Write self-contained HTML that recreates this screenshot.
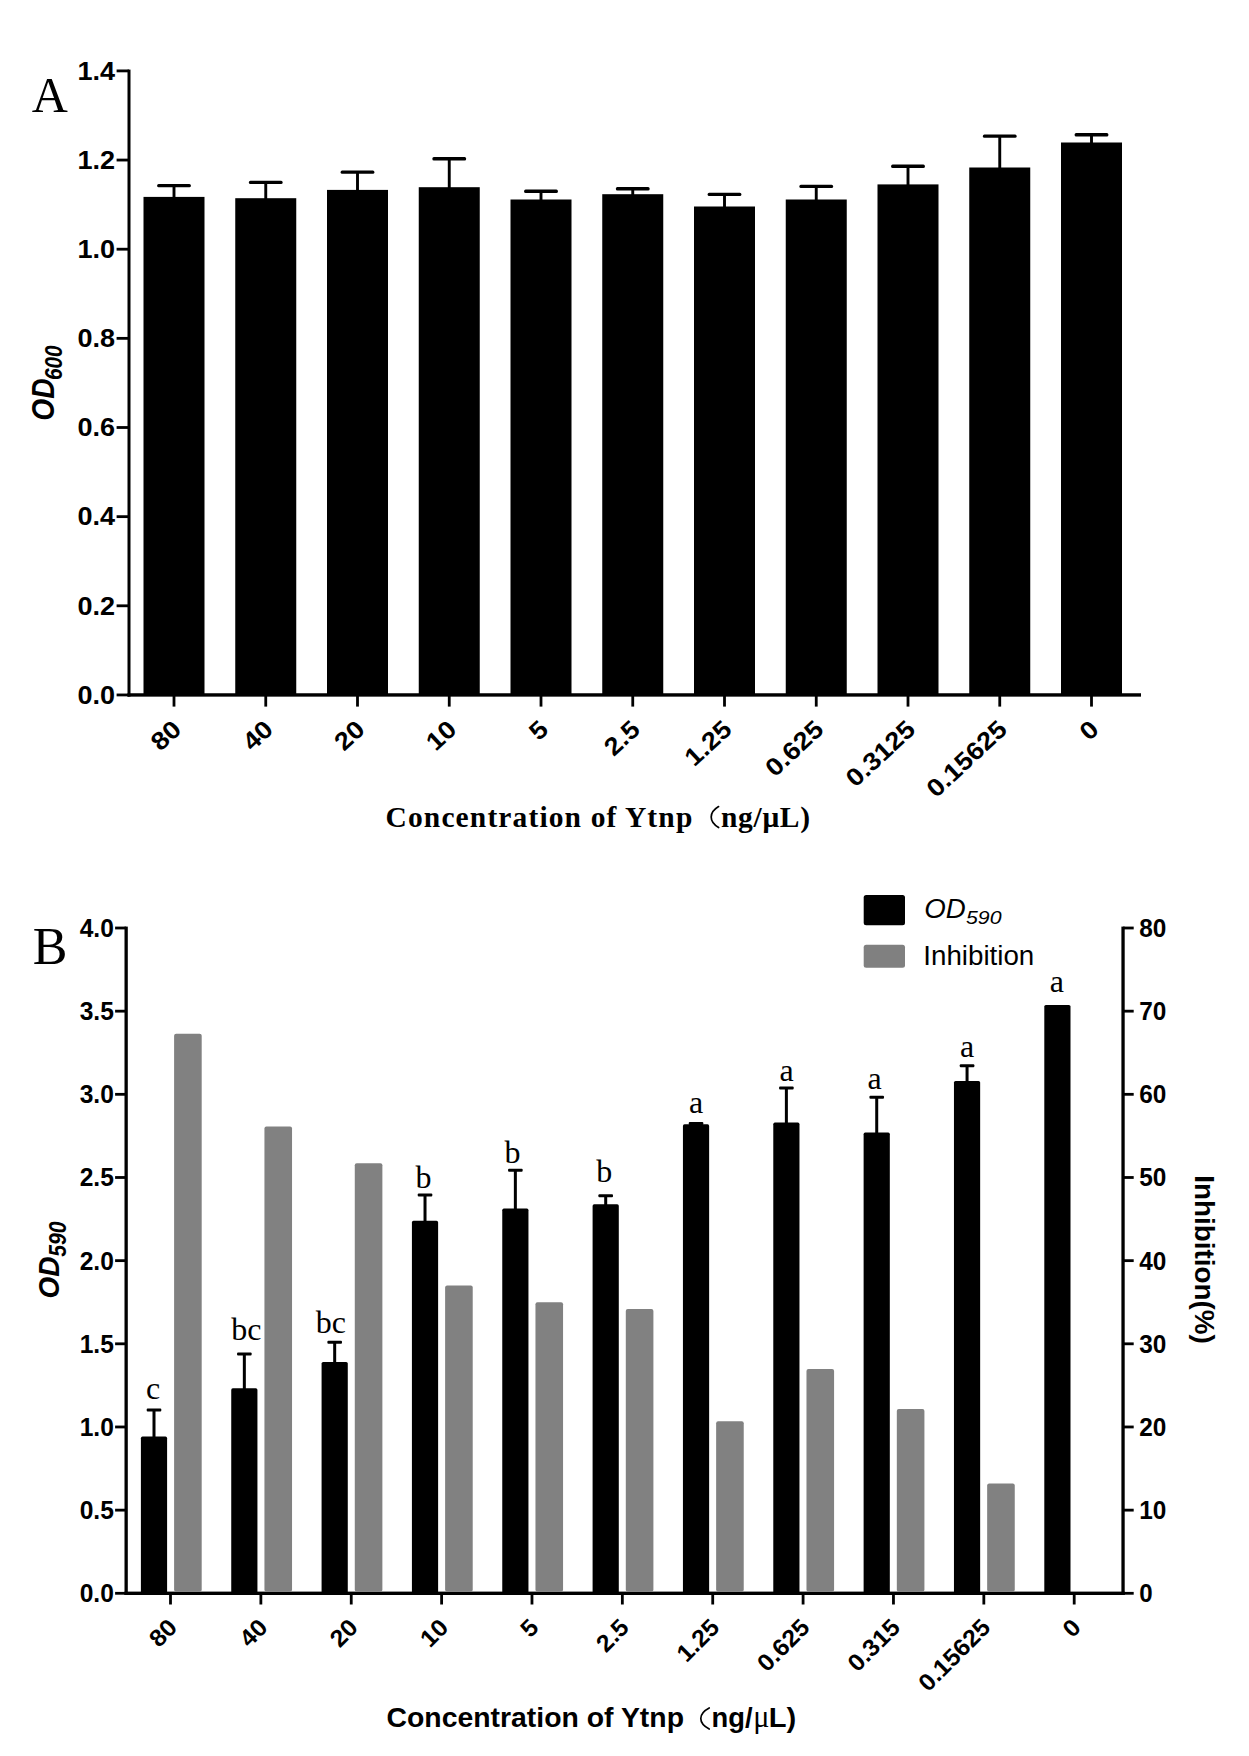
<!DOCTYPE html>
<html><head><meta charset="utf-8"><title>Figure</title>
<style>
html,body{margin:0;padding:0;background:#fff;}
body{width:1249px;height:1756px;overflow:hidden;font-family:"Liberation Sans",sans-serif;}
svg{display:block;}
</style></head>
<body>
<svg width="1249" height="1756" viewBox="0 0 1249 1756">
<rect width="1249" height="1756" fill="#ffffff"/>
<rect x="127.50" y="69.60" width="3.00" height="627.05" fill="#000"/>
<rect x="127.50" y="693.25" width="1013.50" height="3.40" fill="#000"/>
<rect x="116.60" y="69.50" width="12.40" height="2.80" fill="#000"/>
<text x="115.00" y="79.60" font-size="26" font-family='"Liberation Sans", sans-serif' font-weight="bold" font-style="normal" text-anchor="end" fill="#000" textLength="37.60" lengthAdjust="spacingAndGlyphs" >1.4</text>
<rect x="116.60" y="158.65" width="12.40" height="2.80" fill="#000"/>
<text x="115.00" y="168.75" font-size="26" font-family='"Liberation Sans", sans-serif' font-weight="bold" font-style="normal" text-anchor="end" fill="#000" textLength="37.60" lengthAdjust="spacingAndGlyphs" >1.2</text>
<rect x="116.60" y="247.80" width="12.40" height="2.80" fill="#000"/>
<text x="115.00" y="257.90" font-size="26" font-family='"Liberation Sans", sans-serif' font-weight="bold" font-style="normal" text-anchor="end" fill="#000" textLength="37.60" lengthAdjust="spacingAndGlyphs" >1.0</text>
<rect x="116.60" y="336.95" width="12.40" height="2.80" fill="#000"/>
<text x="115.00" y="347.05" font-size="26" font-family='"Liberation Sans", sans-serif' font-weight="bold" font-style="normal" text-anchor="end" fill="#000" textLength="37.60" lengthAdjust="spacingAndGlyphs" >0.8</text>
<rect x="116.60" y="426.10" width="12.40" height="2.80" fill="#000"/>
<text x="115.00" y="436.20" font-size="26" font-family='"Liberation Sans", sans-serif' font-weight="bold" font-style="normal" text-anchor="end" fill="#000" textLength="37.60" lengthAdjust="spacingAndGlyphs" >0.6</text>
<rect x="116.60" y="515.25" width="12.40" height="2.80" fill="#000"/>
<text x="115.00" y="525.35" font-size="26" font-family='"Liberation Sans", sans-serif' font-weight="bold" font-style="normal" text-anchor="end" fill="#000" textLength="37.60" lengthAdjust="spacingAndGlyphs" >0.4</text>
<rect x="116.60" y="604.40" width="12.40" height="2.80" fill="#000"/>
<text x="115.00" y="614.50" font-size="26" font-family='"Liberation Sans", sans-serif' font-weight="bold" font-style="normal" text-anchor="end" fill="#000" textLength="37.60" lengthAdjust="spacingAndGlyphs" >0.2</text>
<rect x="116.60" y="693.55" width="12.40" height="2.80" fill="#000"/>
<text x="115.00" y="703.65" font-size="26" font-family='"Liberation Sans", sans-serif' font-weight="bold" font-style="normal" text-anchor="end" fill="#000" textLength="37.60" lengthAdjust="spacingAndGlyphs" >0.0</text>
<rect x="143.50" y="196.90" width="61.00" height="498.05" fill="#000"/>
<rect x="172.55" y="185.20" width="2.90" height="12.50" fill="#000"/>
<rect x="157.10" y="183.90" width="33.80" height="3.40" fill="#000" rx="1.5"/>
<rect x="172.60" y="694.95" width="2.80" height="11.65" fill="#000"/>
<rect x="235.25" y="198.20" width="61.00" height="496.75" fill="#000"/>
<rect x="264.30" y="182.00" width="2.90" height="17.00" fill="#000"/>
<rect x="248.85" y="180.70" width="33.80" height="3.40" fill="#000" rx="1.5"/>
<rect x="264.35" y="694.95" width="2.80" height="11.65" fill="#000"/>
<rect x="327.00" y="189.90" width="61.00" height="505.05" fill="#000"/>
<rect x="356.05" y="171.70" width="2.90" height="19.00" fill="#000"/>
<rect x="340.60" y="170.40" width="33.80" height="3.40" fill="#000" rx="1.5"/>
<rect x="356.10" y="694.95" width="2.80" height="11.65" fill="#000"/>
<rect x="418.75" y="187.20" width="61.00" height="507.75" fill="#000"/>
<rect x="447.80" y="158.30" width="2.90" height="29.70" fill="#000"/>
<rect x="432.35" y="157.00" width="33.80" height="3.40" fill="#000" rx="1.5"/>
<rect x="447.85" y="694.95" width="2.80" height="11.65" fill="#000"/>
<rect x="510.50" y="199.50" width="61.00" height="495.45" fill="#000"/>
<rect x="539.55" y="190.80" width="2.90" height="9.50" fill="#000"/>
<rect x="524.10" y="189.50" width="33.80" height="3.40" fill="#000" rx="1.5"/>
<rect x="539.60" y="694.95" width="2.80" height="11.65" fill="#000"/>
<rect x="602.25" y="194.20" width="61.00" height="500.75" fill="#000"/>
<rect x="631.30" y="188.30" width="2.90" height="6.70" fill="#000"/>
<rect x="615.85" y="187.00" width="33.80" height="3.40" fill="#000" rx="1.5"/>
<rect x="631.35" y="694.95" width="2.80" height="11.65" fill="#000"/>
<rect x="694.00" y="206.50" width="61.00" height="488.45" fill="#000"/>
<rect x="723.05" y="194.00" width="2.90" height="13.30" fill="#000"/>
<rect x="707.60" y="192.70" width="33.80" height="3.40" fill="#000" rx="1.5"/>
<rect x="723.10" y="694.95" width="2.80" height="11.65" fill="#000"/>
<rect x="785.75" y="199.50" width="61.00" height="495.45" fill="#000"/>
<rect x="814.80" y="186.00" width="2.90" height="14.30" fill="#000"/>
<rect x="799.35" y="184.70" width="33.80" height="3.40" fill="#000" rx="1.5"/>
<rect x="814.85" y="694.95" width="2.80" height="11.65" fill="#000"/>
<rect x="877.50" y="184.40" width="61.00" height="510.55" fill="#000"/>
<rect x="906.55" y="165.80" width="2.90" height="19.40" fill="#000"/>
<rect x="891.10" y="164.50" width="33.80" height="3.40" fill="#000" rx="1.5"/>
<rect x="906.60" y="694.95" width="2.80" height="11.65" fill="#000"/>
<rect x="969.25" y="167.50" width="61.00" height="527.45" fill="#000"/>
<rect x="998.30" y="135.70" width="2.90" height="32.60" fill="#000"/>
<rect x="982.85" y="134.40" width="33.80" height="3.40" fill="#000" rx="1.5"/>
<rect x="998.35" y="694.95" width="2.80" height="11.65" fill="#000"/>
<rect x="1061.00" y="142.50" width="61.00" height="552.45" fill="#000"/>
<rect x="1090.05" y="134.30" width="2.90" height="9.00" fill="#000"/>
<rect x="1074.60" y="133.00" width="33.80" height="3.40" fill="#000" rx="1.5"/>
<rect x="1090.10" y="694.95" width="2.80" height="11.65" fill="#000"/>
<rect x="124.50" y="926.60" width="3.30" height="668.40" fill="#000"/>
<rect x="1121.40" y="926.60" width="3.30" height="668.40" fill="#000"/>
<rect x="124.50" y="1591.60" width="1000.20" height="3.40" fill="#000"/>
<rect x="115.10" y="926.60" width="11.05" height="2.80" fill="#000"/>
<rect x="1123.05" y="926.60" width="10.65" height="2.80" fill="#000"/>
<text x="113.90" y="936.90" font-size="25" font-family='"Liberation Sans", sans-serif' font-weight="bold" font-style="normal" text-anchor="end" fill="#000" textLength="34.20" lengthAdjust="spacingAndGlyphs" >4.0</text>
<text x="1139.20" y="936.90" font-size="25" font-family='"Liberation Sans", sans-serif' font-weight="bold" font-style="normal" text-anchor="start" fill="#000" textLength="27.10" lengthAdjust="spacingAndGlyphs" >80</text>
<rect x="115.10" y="1009.76" width="11.05" height="2.80" fill="#000"/>
<rect x="1123.05" y="1009.76" width="10.65" height="2.80" fill="#000"/>
<text x="113.90" y="1020.06" font-size="25" font-family='"Liberation Sans", sans-serif' font-weight="bold" font-style="normal" text-anchor="end" fill="#000" textLength="34.20" lengthAdjust="spacingAndGlyphs" >3.5</text>
<text x="1139.20" y="1020.06" font-size="25" font-family='"Liberation Sans", sans-serif' font-weight="bold" font-style="normal" text-anchor="start" fill="#000" textLength="27.10" lengthAdjust="spacingAndGlyphs" >70</text>
<rect x="115.10" y="1092.92" width="11.05" height="2.80" fill="#000"/>
<rect x="1123.05" y="1092.92" width="10.65" height="2.80" fill="#000"/>
<text x="113.90" y="1103.23" font-size="25" font-family='"Liberation Sans", sans-serif' font-weight="bold" font-style="normal" text-anchor="end" fill="#000" textLength="34.20" lengthAdjust="spacingAndGlyphs" >3.0</text>
<text x="1139.20" y="1103.23" font-size="25" font-family='"Liberation Sans", sans-serif' font-weight="bold" font-style="normal" text-anchor="start" fill="#000" textLength="27.10" lengthAdjust="spacingAndGlyphs" >60</text>
<rect x="115.10" y="1176.09" width="11.05" height="2.80" fill="#000"/>
<rect x="1123.05" y="1176.09" width="10.65" height="2.80" fill="#000"/>
<text x="113.90" y="1186.39" font-size="25" font-family='"Liberation Sans", sans-serif' font-weight="bold" font-style="normal" text-anchor="end" fill="#000" textLength="34.20" lengthAdjust="spacingAndGlyphs" >2.5</text>
<text x="1139.20" y="1186.39" font-size="25" font-family='"Liberation Sans", sans-serif' font-weight="bold" font-style="normal" text-anchor="start" fill="#000" textLength="27.10" lengthAdjust="spacingAndGlyphs" >50</text>
<rect x="115.10" y="1259.25" width="11.05" height="2.80" fill="#000"/>
<rect x="1123.05" y="1259.25" width="10.65" height="2.80" fill="#000"/>
<text x="113.90" y="1269.55" font-size="25" font-family='"Liberation Sans", sans-serif' font-weight="bold" font-style="normal" text-anchor="end" fill="#000" textLength="34.20" lengthAdjust="spacingAndGlyphs" >2.0</text>
<text x="1139.20" y="1269.55" font-size="25" font-family='"Liberation Sans", sans-serif' font-weight="bold" font-style="normal" text-anchor="start" fill="#000" textLength="27.10" lengthAdjust="spacingAndGlyphs" >40</text>
<rect x="115.10" y="1342.41" width="11.05" height="2.80" fill="#000"/>
<rect x="1123.05" y="1342.41" width="10.65" height="2.80" fill="#000"/>
<text x="113.90" y="1352.71" font-size="25" font-family='"Liberation Sans", sans-serif' font-weight="bold" font-style="normal" text-anchor="end" fill="#000" textLength="34.20" lengthAdjust="spacingAndGlyphs" >1.5</text>
<text x="1139.20" y="1352.71" font-size="25" font-family='"Liberation Sans", sans-serif' font-weight="bold" font-style="normal" text-anchor="start" fill="#000" textLength="27.10" lengthAdjust="spacingAndGlyphs" >30</text>
<rect x="115.10" y="1425.57" width="11.05" height="2.80" fill="#000"/>
<rect x="1123.05" y="1425.57" width="10.65" height="2.80" fill="#000"/>
<text x="113.90" y="1435.88" font-size="25" font-family='"Liberation Sans", sans-serif' font-weight="bold" font-style="normal" text-anchor="end" fill="#000" textLength="34.20" lengthAdjust="spacingAndGlyphs" >1.0</text>
<text x="1139.20" y="1435.88" font-size="25" font-family='"Liberation Sans", sans-serif' font-weight="bold" font-style="normal" text-anchor="start" fill="#000" textLength="27.10" lengthAdjust="spacingAndGlyphs" >20</text>
<rect x="115.10" y="1508.74" width="11.05" height="2.80" fill="#000"/>
<rect x="1123.05" y="1508.74" width="10.65" height="2.80" fill="#000"/>
<text x="113.90" y="1519.04" font-size="25" font-family='"Liberation Sans", sans-serif' font-weight="bold" font-style="normal" text-anchor="end" fill="#000" textLength="34.20" lengthAdjust="spacingAndGlyphs" >0.5</text>
<text x="1139.20" y="1519.04" font-size="25" font-family='"Liberation Sans", sans-serif' font-weight="bold" font-style="normal" text-anchor="start" fill="#000" textLength="27.10" lengthAdjust="spacingAndGlyphs" >10</text>
<rect x="115.10" y="1591.90" width="11.05" height="2.80" fill="#000"/>
<rect x="1123.05" y="1591.90" width="10.65" height="2.80" fill="#000"/>
<text x="113.90" y="1602.20" font-size="25" font-family='"Liberation Sans", sans-serif' font-weight="bold" font-style="normal" text-anchor="end" fill="#000" textLength="34.20" lengthAdjust="spacingAndGlyphs" >0.0</text>
<text x="1139.20" y="1602.20" font-size="25" font-family='"Liberation Sans", sans-serif' font-weight="bold" font-style="normal" text-anchor="start" fill="#000" textLength="13.40" lengthAdjust="spacingAndGlyphs" >0</text>
<rect x="140.90" y="1436.60" width="26.20" height="156.70" fill="#000" rx="1.6"/>
<rect x="152.50" y="1410.00" width="3.00" height="28.30" fill="#000"/>
<rect x="146.70" y="1408.50" width="14.60" height="3.00" fill="#000" rx="1"/>
<rect x="174.10" y="1033.80" width="27.60" height="558.00" fill="#818181" rx="2"/>
<rect x="169.10" y="1593.30" width="2.80" height="11.20" fill="#000"/>
<rect x="231.24" y="1388.30" width="26.20" height="205.00" fill="#000" rx="1.6"/>
<rect x="242.84" y="1354.00" width="3.00" height="36.00" fill="#000"/>
<rect x="237.04" y="1352.50" width="14.60" height="3.00" fill="#000" rx="1"/>
<rect x="264.44" y="1126.60" width="27.60" height="465.20" fill="#818181" rx="2"/>
<rect x="259.47" y="1593.30" width="2.80" height="11.20" fill="#000"/>
<rect x="321.58" y="1362.00" width="26.20" height="231.30" fill="#000" rx="1.6"/>
<rect x="333.18" y="1342.30" width="3.00" height="21.40" fill="#000"/>
<rect x="327.38" y="1340.80" width="14.60" height="3.00" fill="#000" rx="1"/>
<rect x="354.78" y="1163.30" width="27.60" height="428.50" fill="#818181" rx="2"/>
<rect x="349.84" y="1593.30" width="2.80" height="11.20" fill="#000"/>
<rect x="411.92" y="1220.80" width="26.20" height="372.50" fill="#000" rx="1.6"/>
<rect x="423.52" y="1195.00" width="3.00" height="27.50" fill="#000"/>
<rect x="417.72" y="1193.50" width="14.60" height="3.00" fill="#000" rx="1"/>
<rect x="445.12" y="1285.60" width="27.60" height="306.20" fill="#818181" rx="2"/>
<rect x="440.21" y="1593.30" width="2.80" height="11.20" fill="#000"/>
<rect x="502.26" y="1208.60" width="26.20" height="384.70" fill="#000" rx="1.6"/>
<rect x="513.86" y="1170.30" width="3.00" height="40.00" fill="#000"/>
<rect x="508.06" y="1168.80" width="14.60" height="3.00" fill="#000" rx="1"/>
<rect x="535.46" y="1302.30" width="27.60" height="289.50" fill="#818181" rx="2"/>
<rect x="530.58" y="1593.30" width="2.80" height="11.20" fill="#000"/>
<rect x="592.60" y="1204.30" width="26.20" height="389.00" fill="#000" rx="1.6"/>
<rect x="604.20" y="1195.70" width="3.00" height="10.30" fill="#000"/>
<rect x="598.40" y="1194.20" width="14.60" height="3.00" fill="#000" rx="1"/>
<rect x="625.80" y="1308.90" width="27.60" height="282.90" fill="#818181" rx="2"/>
<rect x="620.95" y="1593.30" width="2.80" height="11.20" fill="#000"/>
<rect x="682.94" y="1124.30" width="26.20" height="469.00" fill="#000" rx="1.6"/>
<rect x="694.54" y="1123.50" width="3.00" height="2.50" fill="#000"/>
<rect x="688.74" y="1122.00" width="14.60" height="3.00" fill="#000" rx="1"/>
<rect x="716.14" y="1421.30" width="27.60" height="170.50" fill="#818181" rx="2"/>
<rect x="711.32" y="1593.30" width="2.80" height="11.20" fill="#000"/>
<rect x="773.28" y="1122.60" width="26.20" height="470.70" fill="#000" rx="1.6"/>
<rect x="784.88" y="1088.00" width="3.00" height="36.30" fill="#000"/>
<rect x="779.08" y="1086.50" width="14.60" height="3.00" fill="#000" rx="1"/>
<rect x="806.48" y="1368.90" width="27.60" height="222.90" fill="#818181" rx="2"/>
<rect x="801.69" y="1593.30" width="2.80" height="11.20" fill="#000"/>
<rect x="863.62" y="1132.60" width="26.20" height="460.70" fill="#000" rx="1.6"/>
<rect x="875.22" y="1097.30" width="3.00" height="37.00" fill="#000"/>
<rect x="869.42" y="1095.80" width="14.60" height="3.00" fill="#000" rx="1"/>
<rect x="896.82" y="1408.90" width="27.60" height="182.90" fill="#818181" rx="2"/>
<rect x="892.06" y="1593.30" width="2.80" height="11.20" fill="#000"/>
<rect x="953.96" y="1081.00" width="26.20" height="512.30" fill="#000" rx="1.6"/>
<rect x="965.56" y="1065.70" width="3.00" height="17.00" fill="#000"/>
<rect x="959.76" y="1064.20" width="14.60" height="3.00" fill="#000" rx="1"/>
<rect x="987.16" y="1483.60" width="27.60" height="108.20" fill="#818181" rx="2"/>
<rect x="982.43" y="1593.30" width="2.80" height="11.20" fill="#000"/>
<rect x="1044.30" y="1004.90" width="26.20" height="588.40" fill="#000" rx="1.6"/>
<rect x="1072.80" y="1593.30" width="2.80" height="11.20" fill="#000"/>
<text x="153.00" y="1399.20" font-size="32" font-family='"Liberation Serif", serif' font-weight="normal" font-style="normal" text-anchor="middle" fill="#000" >c</text>
<text x="246.30" y="1340.00" font-size="32" font-family='"Liberation Serif", serif' font-weight="normal" font-style="normal" text-anchor="middle" fill="#000" >bc</text>
<text x="330.80" y="1332.70" font-size="32" font-family='"Liberation Serif", serif' font-weight="normal" font-style="normal" text-anchor="middle" fill="#000" >bc</text>
<text x="423.60" y="1188.30" font-size="32" font-family='"Liberation Serif", serif' font-weight="normal" font-style="normal" text-anchor="middle" fill="#000" >b</text>
<text x="512.50" y="1162.70" font-size="32" font-family='"Liberation Serif", serif' font-weight="normal" font-style="normal" text-anchor="middle" fill="#000" >b</text>
<text x="604.20" y="1181.70" font-size="32" font-family='"Liberation Serif", serif' font-weight="normal" font-style="normal" text-anchor="middle" fill="#000" >b</text>
<text x="696.00" y="1113.30" font-size="32" font-family='"Liberation Serif", serif' font-weight="normal" font-style="normal" text-anchor="middle" fill="#000" >a</text>
<text x="786.70" y="1080.70" font-size="32" font-family='"Liberation Serif", serif' font-weight="normal" font-style="normal" text-anchor="middle" fill="#000" >a</text>
<text x="874.50" y="1089.30" font-size="32" font-family='"Liberation Serif", serif' font-weight="normal" font-style="normal" text-anchor="middle" fill="#000" >a</text>
<text x="967.20" y="1056.70" font-size="32" font-family='"Liberation Serif", serif' font-weight="normal" font-style="normal" text-anchor="middle" fill="#000" >a</text>
<text x="1056.90" y="992.30" font-size="32" font-family='"Liberation Serif", serif' font-weight="normal" font-style="normal" text-anchor="middle" fill="#000" >a</text>
<rect x="863.70" y="895.00" width="41.30" height="30.30" fill="#000" rx="2.5"/>
<rect x="863.70" y="944.70" width="41.30" height="23.10" fill="#808080" rx="2.5"/>
<text x="924.20" y="917.50" font-size="27" font-family='"Liberation Sans", sans-serif' font-weight="normal" font-style="italic" text-anchor="start" fill="#000" textLength="41.50" lengthAdjust="spacingAndGlyphs" >OD</text>
<text x="966.00" y="924.30" font-size="19" font-family='"Liberation Sans", sans-serif' font-weight="normal" font-style="italic" text-anchor="start" fill="#000" textLength="35.50" lengthAdjust="spacingAndGlyphs" >590</text>
<text x="923.30" y="965.00" font-size="27" font-family='"Liberation Sans", sans-serif' font-weight="normal" font-style="normal" text-anchor="start" fill="#000" textLength="111.00" lengthAdjust="spacingAndGlyphs" >Inhibition</text>
<text x="31.80" y="111.80" font-size="50" font-family='"Liberation Serif", serif' font-weight="normal" font-style="normal" text-anchor="start" fill="#000" >A</text>
<text x="32.80" y="964.00" font-size="52" font-family='"Liberation Serif", serif' font-weight="normal" font-style="normal" text-anchor="start" fill="#000" >B</text>
<text x="182.80" y="731.25" font-size="25" font-family='"Liberation Sans", sans-serif' font-weight="bold" font-style="normal" text-anchor="end" fill="#000" textLength="30.44" lengthAdjust="spacingAndGlyphs" transform="rotate(-43 182.80 731.25)" >80</text>
<text x="274.55" y="731.25" font-size="25" font-family='"Liberation Sans", sans-serif' font-weight="bold" font-style="normal" text-anchor="end" fill="#000" textLength="30.44" lengthAdjust="spacingAndGlyphs" transform="rotate(-43 274.55 731.25)" >40</text>
<text x="366.30" y="731.25" font-size="25" font-family='"Liberation Sans", sans-serif' font-weight="bold" font-style="normal" text-anchor="end" fill="#000" textLength="30.44" lengthAdjust="spacingAndGlyphs" transform="rotate(-43 366.30 731.25)" >20</text>
<text x="458.05" y="731.25" font-size="25" font-family='"Liberation Sans", sans-serif' font-weight="bold" font-style="normal" text-anchor="end" fill="#000" textLength="30.44" lengthAdjust="spacingAndGlyphs" transform="rotate(-43 458.05 731.25)" >10</text>
<text x="549.80" y="731.25" font-size="25" font-family='"Liberation Sans", sans-serif' font-weight="bold" font-style="normal" text-anchor="end" fill="#000" textLength="15.22" lengthAdjust="spacingAndGlyphs" transform="rotate(-43 549.80 731.25)" >5</text>
<text x="641.55" y="731.25" font-size="25" font-family='"Liberation Sans", sans-serif' font-weight="bold" font-style="normal" text-anchor="end" fill="#000" textLength="38.05" lengthAdjust="spacingAndGlyphs" transform="rotate(-43 641.55 731.25)" >2.5</text>
<text x="733.30" y="731.25" font-size="25" font-family='"Liberation Sans", sans-serif' font-weight="bold" font-style="normal" text-anchor="end" fill="#000" textLength="53.27" lengthAdjust="spacingAndGlyphs" transform="rotate(-43 733.30 731.25)" >1.25</text>
<text x="825.05" y="731.25" font-size="25" font-family='"Liberation Sans", sans-serif' font-weight="bold" font-style="normal" text-anchor="end" fill="#000" textLength="68.49" lengthAdjust="spacingAndGlyphs" transform="rotate(-43 825.05 731.25)" >0.625</text>
<text x="916.80" y="731.25" font-size="25" font-family='"Liberation Sans", sans-serif' font-weight="bold" font-style="normal" text-anchor="end" fill="#000" textLength="83.71" lengthAdjust="spacingAndGlyphs" transform="rotate(-43 916.80 731.25)" >0.3125</text>
<text x="1008.55" y="731.25" font-size="25" font-family='"Liberation Sans", sans-serif' font-weight="bold" font-style="normal" text-anchor="end" fill="#000" textLength="98.93" lengthAdjust="spacingAndGlyphs" transform="rotate(-43 1008.55 731.25)" >0.15625</text>
<text x="1100.30" y="731.25" font-size="25" font-family='"Liberation Sans", sans-serif' font-weight="bold" font-style="normal" text-anchor="end" fill="#000" textLength="15.22" lengthAdjust="spacingAndGlyphs" transform="rotate(-43 1100.30 731.25)" >0</text>
<text x="178.60" y="1628.90" font-size="24" font-family='"Liberation Sans", sans-serif' font-weight="bold" font-style="normal" text-anchor="end" fill="#000" textLength="27.76" lengthAdjust="spacingAndGlyphs" transform="rotate(-45 178.60 1628.90)" >80</text>
<text x="268.97" y="1628.90" font-size="24" font-family='"Liberation Sans", sans-serif' font-weight="bold" font-style="normal" text-anchor="end" fill="#000" textLength="27.76" lengthAdjust="spacingAndGlyphs" transform="rotate(-45 268.97 1628.90)" >40</text>
<text x="359.34" y="1628.90" font-size="24" font-family='"Liberation Sans", sans-serif' font-weight="bold" font-style="normal" text-anchor="end" fill="#000" textLength="27.76" lengthAdjust="spacingAndGlyphs" transform="rotate(-45 359.34 1628.90)" >20</text>
<text x="449.71" y="1628.90" font-size="24" font-family='"Liberation Sans", sans-serif' font-weight="bold" font-style="normal" text-anchor="end" fill="#000" textLength="27.76" lengthAdjust="spacingAndGlyphs" transform="rotate(-45 449.71 1628.90)" >10</text>
<text x="540.08" y="1628.90" font-size="24" font-family='"Liberation Sans", sans-serif' font-weight="bold" font-style="normal" text-anchor="end" fill="#000" textLength="13.88" lengthAdjust="spacingAndGlyphs" transform="rotate(-45 540.08 1628.90)" >5</text>
<text x="630.45" y="1628.90" font-size="24" font-family='"Liberation Sans", sans-serif' font-weight="bold" font-style="normal" text-anchor="end" fill="#000" textLength="34.69" lengthAdjust="spacingAndGlyphs" transform="rotate(-45 630.45 1628.90)" >2.5</text>
<text x="720.82" y="1628.90" font-size="24" font-family='"Liberation Sans", sans-serif' font-weight="bold" font-style="normal" text-anchor="end" fill="#000" textLength="48.57" lengthAdjust="spacingAndGlyphs" transform="rotate(-45 720.82 1628.90)" >1.25</text>
<text x="811.19" y="1628.90" font-size="24" font-family='"Liberation Sans", sans-serif' font-weight="bold" font-style="normal" text-anchor="end" fill="#000" textLength="62.45" lengthAdjust="spacingAndGlyphs" transform="rotate(-45 811.19 1628.90)" >0.625</text>
<text x="901.56" y="1628.90" font-size="24" font-family='"Liberation Sans", sans-serif' font-weight="bold" font-style="normal" text-anchor="end" fill="#000" textLength="62.45" lengthAdjust="spacingAndGlyphs" transform="rotate(-45 901.56 1628.90)" >0.315</text>
<text x="991.93" y="1628.90" font-size="24" font-family='"Liberation Sans", sans-serif' font-weight="bold" font-style="normal" text-anchor="end" fill="#000" textLength="90.21" lengthAdjust="spacingAndGlyphs" transform="rotate(-45 991.93 1628.90)" >0.15625</text>
<text x="1082.30" y="1628.90" font-size="24" font-family='"Liberation Sans", sans-serif' font-weight="bold" font-style="normal" text-anchor="end" fill="#000" textLength="13.88" lengthAdjust="spacingAndGlyphs" transform="rotate(-45 1082.30 1628.90)" >0</text>
<g transform="translate(54.0 420.65) rotate(-90)">
<text x="0.00" y="0.00" font-size="31.4" font-family='"Liberation Sans", sans-serif' font-weight="bold" font-style="italic" text-anchor="start" fill="#000" textLength="42.40" lengthAdjust="spacingAndGlyphs" >OD</text>
<text x="40.60" y="8.30" font-size="23.8" font-family='"Liberation Sans", sans-serif' font-weight="bold" font-style="italic" text-anchor="start" fill="#000" textLength="34.70" lengthAdjust="spacingAndGlyphs" >600</text>
</g>
<g transform="translate(58.8 1298.4) rotate(-90)">
<text x="0.00" y="0.00" font-size="29.3" font-family='"Liberation Sans", sans-serif' font-weight="bold" font-style="italic" text-anchor="start" fill="#000" textLength="41.90" lengthAdjust="spacingAndGlyphs" >OD</text>
<text x="41.75" y="7.00" font-size="24.3" font-family='"Liberation Sans", sans-serif' font-weight="bold" font-style="italic" text-anchor="start" fill="#000" textLength="35.20" lengthAdjust="spacingAndGlyphs" >590</text>
</g>
<g transform="translate(1194.6 1175.2) rotate(90)">
<text x="0.00" y="0.00" font-size="27" font-family='"Liberation Sans", sans-serif' font-weight="bold" font-style="normal" text-anchor="start" fill="#000" textLength="168.50" lengthAdjust="spacingAndGlyphs" >Inhibition(%)</text>
</g>
<text x="385.50" y="827.00" font-size="29.5" font-family='"Liberation Serif", serif' font-weight="bold" font-style="normal" text-anchor="start" fill="#000" textLength="306.80" lengthAdjust="spacing" >Concentration of Ytnp</text>
<path d="M 718.60 806.60 C 708.73 812.48 708.73 821.72 718.60 827.60" fill="none" stroke="#000" stroke-width="1.7" stroke-linecap="round"/>
<text x="721.00" y="827.00" font-size="29.5" font-family='"Liberation Serif", serif' font-weight="bold" font-style="normal" text-anchor="start" fill="#000" textLength="89.00" lengthAdjust="spacing" >ng/μL)</text>
<text x="386.50" y="1727.20" font-size="27" font-family='"Liberation Sans", sans-serif' font-weight="bold" font-style="normal" text-anchor="start" fill="#000" textLength="297.50" lengthAdjust="spacingAndGlyphs" >Concentration of Ytnp</text>
<path d="M 709.20 1708.00 C 698.00 1713.88 698.00 1723.12 709.20 1729.00" fill="none" stroke="#000" stroke-width="1.7" stroke-linecap="round"/>
<text x="711.60" y="1727.20" font-size="27" font-family='"Liberation Sans", sans-serif' font-weight="bold" font-style="normal" text-anchor="start" fill="#000" textLength="41.00" lengthAdjust="spacingAndGlyphs" >ng/</text>
<text x="753.20" y="1727.20" font-size="31" font-family='"Liberation Serif", serif' font-weight="normal" font-style="normal" text-anchor="start" fill="#000" textLength="16.20" lengthAdjust="spacingAndGlyphs" >μ</text>
<text x="768.70" y="1727.20" font-size="27" font-family='"Liberation Sans", sans-serif' font-weight="bold" font-style="normal" text-anchor="start" fill="#000" textLength="27.50" lengthAdjust="spacingAndGlyphs" >L)</text>
</svg>
</body></html>
